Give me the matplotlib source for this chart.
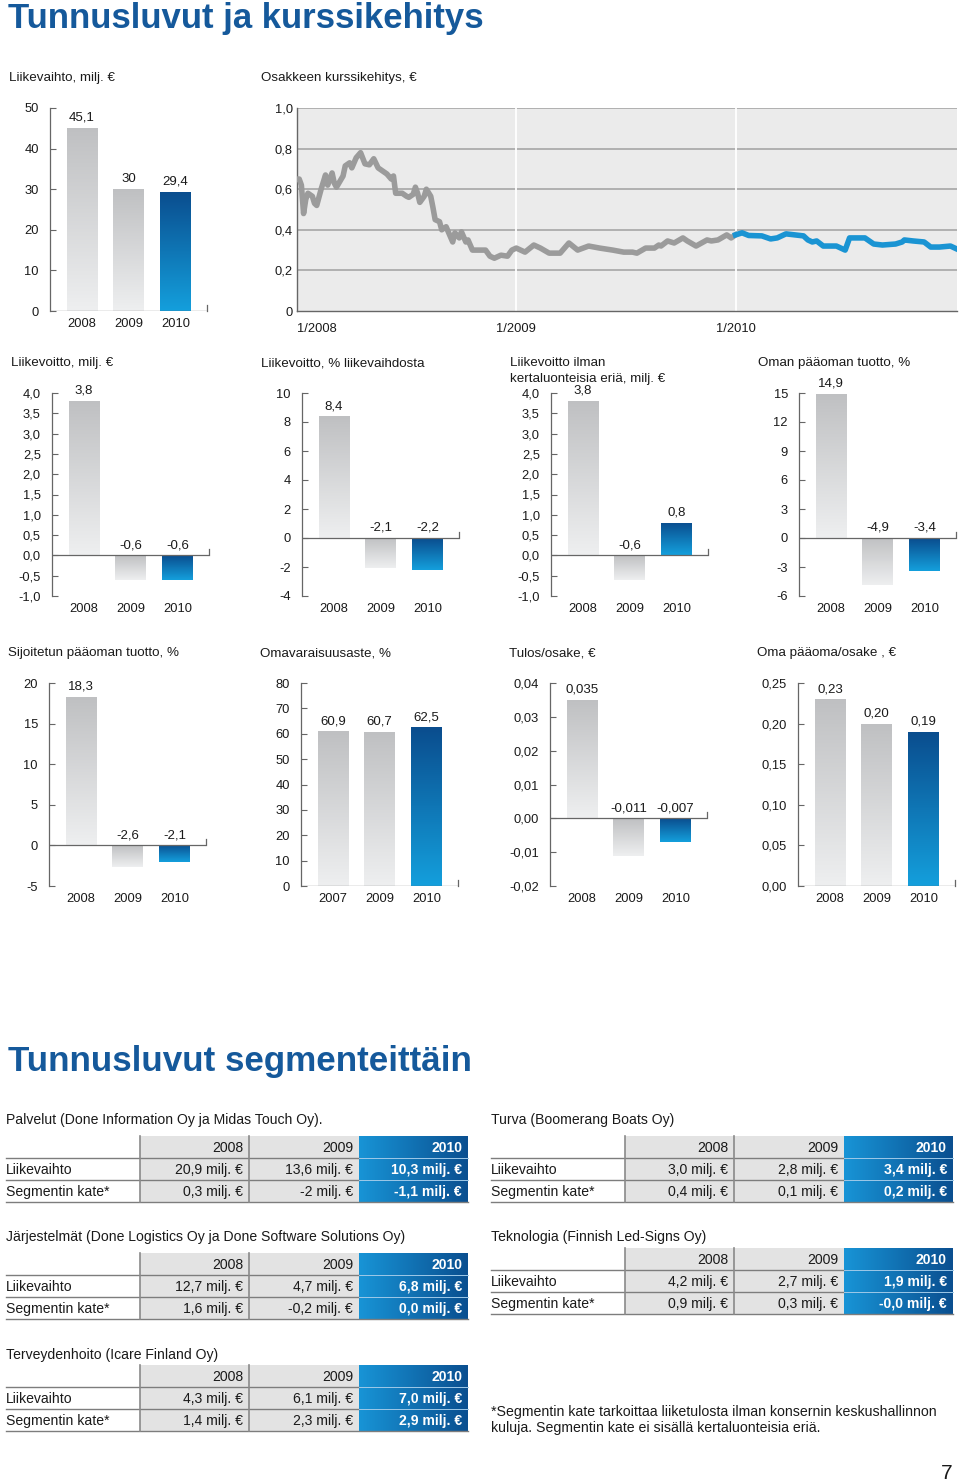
import numpy as np
import matplotlib.pyplot as plt
from matplotlib.colors import LinearSegmentedColormap

plt.rcParams['font.family'] = ['Liberation Sans', 'DejaVu Sans']

W, H = 960, 1481

# Tunnusluvut
vuodet = ['2008', '2009', '2010']
liikevaihto = [45.1, 30, 29.4]
liikevoitto = [3.8, -0.6, -0.6]
liikevoitto_pros = [8.4, -2.1, -2.2]
liikevoitto_ilman = [3.8, -0.6, 0.8]
oman_paaoman_tuotto = [14.9, -4.9, -3.4]
sijoitetun_tuotto = [18.3, -2.6, -2.1]
omavaraisuus_vuodet = ['2007', '2009', '2010']
omavaraisuusaste = [60.9, 60.7, 62.5]
tulos_osake = [0.035, -0.011, -0.007]
oma_paaoma_osake = [0.23, 0.20, 0.19]

# Osakkeen kurssi (luettu kuvasta)
kurssi_aika = [2008.00, 2008.01, 2008.02, 2008.03, 2008.04, 2008.05, 2008.07, 2008.08, 2008.09,
               2008.11, 2008.13, 2008.14, 2008.16, 2008.17, 2008.18, 2008.21, 2008.22, 2008.24,
               2008.25, 2008.27, 2008.29, 2008.31, 2008.33, 2008.35, 2008.37, 2008.39, 2008.41,
               2008.43, 2008.44, 2008.45, 2008.48, 2008.50, 2008.51, 2008.53, 2008.54, 2008.55,
               2008.56, 2008.58, 2008.59, 2008.61, 2008.62, 2008.63, 2008.65, 2008.66, 2008.68,
               2008.69, 2008.71, 2008.72, 2008.74, 2008.75, 2008.77, 2008.78, 2008.80, 2008.83,
               2008.86, 2008.88, 2008.90, 2008.93, 2008.96, 2008.98, 2009.00, 2009.04, 2009.08,
               2009.11, 2009.15, 2009.20, 2009.24, 2009.28, 2009.33, 2009.38, 2009.44, 2009.49,
               2009.53, 2009.55, 2009.59, 2009.63, 2009.65, 2009.66, 2009.69, 2009.72, 2009.76,
               2009.78, 2009.82, 2009.87, 2009.89, 2009.92, 2009.96, 2009.98, 2010.00]
kurssi = [0.65, 0.65, 0.62, 0.48, 0.55, 0.58, 0.565, 0.53, 0.52,
          0.60, 0.67, 0.62, 0.68, 0.63, 0.61, 0.665, 0.715, 0.73,
          0.705, 0.755, 0.78, 0.725, 0.72, 0.75, 0.705, 0.69, 0.675,
          0.65, 0.665, 0.58, 0.58, 0.565, 0.56, 0.575, 0.61, 0.58,
          0.535, 0.565, 0.60, 0.565, 0.51, 0.45, 0.44, 0.40, 0.415,
          0.39, 0.34, 0.385, 0.36, 0.39, 0.34, 0.35, 0.30, 0.30,
          0.30, 0.27, 0.26, 0.275, 0.27, 0.30, 0.31, 0.29, 0.325,
          0.31, 0.285, 0.285, 0.335, 0.30, 0.32, 0.31, 0.30, 0.29,
          0.29, 0.285, 0.31, 0.31, 0.325, 0.32, 0.345, 0.335, 0.36,
          0.345, 0.32, 0.35, 0.345, 0.35, 0.375, 0.36, 0.375]
kurssi_2010_aika = [2010.00, 2010.03, 2010.06, 2010.12, 2010.16, 2010.19, 2010.23, 2010.27, 2010.31,
                    2010.33, 2010.35, 2010.37, 2010.40, 2010.46, 2010.50, 2010.52, 2010.59, 2010.63,
                    2010.67, 2010.73, 2010.76, 2010.77, 2010.81, 2010.86, 2010.89, 2010.93, 2010.98,
                    2011.01]
kurssi_2010 = [0.375, 0.385, 0.372, 0.37, 0.355, 0.36, 0.38, 0.375, 0.37,
               0.35, 0.34, 0.345, 0.32, 0.32, 0.30, 0.36, 0.36, 0.33,
               0.325, 0.33, 0.34, 0.35, 0.345, 0.34, 0.315, 0.315, 0.32,
               0.305]

# Segmentit
seg_otsikot = ['Palvelut (Done Information Oy ja Midas Touch Oy).',
               'Turva (Boomerang Boats Oy)',
               'Järjestelmät (Done Logistics Oy ja Done Software Solutions Oy)',
               'Teknologia (Finnish Led-Signs Oy)',
               'Terveydenhoito (Icare Finland Oy)']
seg_liikevaihto = [['20,9', '13,6', '10,3'], ['3,0', '2,8', '3,4'], ['12,7', '4,7', '6,8'],
                   ['4,2', '2,7', '1,9'], ['4,3', '6,1', '7,0']]
seg_kate = [['0,3', '-2', '-1,1'], ['0,4', '0,1', '0,2'], ['1,6', '-0,2', '0,0'],
            ['0,9', '0,3', '-0,0'], ['1,4', '2,3', '2,9']]

otsikko_vari = '#15599b'
akseli_vari = '#666666'
harmaa = LinearSegmentedColormap.from_list('harmaa', ['#bfc0c2', '#eeeff0'])
sininen = LinearSegmentedColormap.from_list('sininen', ['#0a4d8e', '#149fdc'])
sininen_vaaka = LinearSegmentedColormap.from_list('sv', ['#1894d6', '#0a4f90'])

fig = plt.figure(figsize=(W / 100, H / 100), dpi=100)
ov = fig.add_axes([0, 0, 1, 1])
ov.axis('off')


def fmt(v, d):
    return f'{v:.{d}f}'.replace('.', ',')


AW, AH = 157, 203


def pylvaat(left, top, otsikko, kategoriat, arvot, ylim, ytikit, ydes, arvo_fmt):
    ax = fig.add_axes([left / W, 1 - (top + AH) / H, AW / W, AH / H])
    x = np.arange(len(arvot))
    bars = ax.bar(x, arvot, width=0.66, color='none', edgecolor='none', zorder=2)
    for i, b in enumerate(bars):
        cm = sininen if i == len(bars) - 1 else harmaa
        y0 = min(b.get_y(), b.get_y() + b.get_height())
        y1 = max(b.get_y(), b.get_y() + b.get_height())
        im = ax.imshow(np.linspace(0, 1, 128).reshape(-1, 1), cmap=cm, origin='upper',
                       extent=(b.get_x(), b.get_x() + b.get_width(), y0, y1),
                       aspect='auto', zorder=2)
        im.set_clip_path(b)
        ax.annotate(arvo_fmt(arvot[i]), (x[i], max(arvot[i], 0)), xytext=(0, 3),
                    textcoords='offset points', ha='center', va='bottom', fontsize=9.5,
                    color='#1a1a1a')
    ax.set_xlim(-0.684, 2.674)
    ax.set_ylim(*ylim)
    ax.axhline(0, color=akseli_vari, lw=0.9, zorder=3)
    ax.plot([2.674, 2.674], [0, (ylim[1] - ylim[0]) * 0.03], color=akseli_vari, lw=0.9,
            clip_on=False)
    ax.set_yticks(ytikit)
    ax.set_yticklabels([fmt(t, ydes) for t in ytikit])
    ax.set_xticks(x)
    ax.set_xticklabels(kategoriat)
    ax.tick_params(axis='y', direction='in', length=4, width=0.8, color=akseli_vari,
                   labelsize=9.3, pad=8, labelcolor='#1a1a1a')
    ax.tick_params(axis='x', length=0, labelsize=9.3, pad=5, labelcolor='#1a1a1a')
    for s in ['top', 'right', 'bottom']:
        ax.spines[s].set_visible(False)
    ax.spines['left'].set_color(akseli_vari)
    ax.spines['left'].set_linewidth(0.9)
    ax.patch.set_alpha(0)
    if isinstance(otsikko, str):
        otsikko = [otsikko]
    for j, rivi in enumerate(otsikko):
        ov.text(left - 41, top - 27 + 16 * j, rivi, fontsize=9.6, va='baseline', ha='left',
                color='#1a1a1a')
    return ax


# Ylärivi
pylvaat(50, 108, 'Liikevaihto, milj. €', vuodet, liikevaihto, (0, 50),
        [0, 10, 20, 30, 40, 50], 0, lambda v: f'{v:g}'.replace('.', ','))

# Kurssikehitys
axk = fig.add_axes([297 / W, 1 - 311 / H, 660 / W, 203 / H])
axk.set_facecolor('#ebebeb')
axk.plot(kurssi_aika, kurssi, color='#9b9b9b', lw=4, solid_joinstyle='round', zorder=3)
axk.plot(kurssi_2010_aika, kurssi_2010, color='#1a94d3', lw=4, solid_joinstyle='round',
         zorder=3)
axk.set_xlim(2008.0, 2011.01)
axk.set_ylim(0, 1.0)
ky = [0, 0.2, 0.4, 0.6, 0.8, 1.0]
axk.set_yticks(ky)
axk.set_yticklabels(['0'] + [fmt(t, 1) for t in ky[1:]])
for t in ky[1:]:
    axk.axhline(t, color='#b0b0b0', lw=1.4, zorder=1)
for t in [2009, 2010]:
    axk.axvline(t, color='white', lw=1.3, zorder=1)
axk.set_xticks([2008, 2009, 2010])
axk.set_xticklabels(['1/2008', '1/2009', '1/2010'])
axk.get_xticklabels()[0].set_ha('left')
axk.tick_params(length=0, labelsize=9.3, labelcolor='#1a1a1a')
axk.tick_params(axis='y', pad=3)
axk.tick_params(axis='x', pad=9)
for s in ['top', 'right']:
    axk.spines[s].set_visible(False)
for s in ['left', 'bottom']:
    axk.spines[s].set_color(akseli_vari)
    axk.spines[s].set_linewidth(1.0)
ov.text(261, 81, 'Osakkeen kurssikehitys, €', fontsize=9.6, va='baseline', color='#1a1a1a')

# Keskirivi
pylvaat(52, 393, 'Liikevoitto, milj. €', vuodet, liikevoitto, (-1, 4),
        np.arange(-1, 4.01, 0.5), 1, lambda v: fmt(v, 1))
pylvaat(302, 393, 'Liikevoitto, % liikevaihdosta', vuodet, liikevoitto_pros, (-4, 10),
        np.arange(-4, 11, 2), 0, lambda v: fmt(v, 1))
pylvaat(551, 393, ['Liikevoitto ilman', 'kertaluonteisia eriä, milj. €'], vuodet,
        liikevoitto_ilman, (-1, 4), np.arange(-1, 4.01, 0.5), 1, lambda v: fmt(v, 1))
pylvaat(799, 393, 'Oman pääoman tuotto, %', vuodet, oman_paaoman_tuotto, (-6, 15),
        np.arange(-6, 16, 3), 0, lambda v: fmt(v, 1))

# Alarivi
pylvaat(49, 683, 'Sijoitetun pääoman tuotto, %', vuodet, sijoitetun_tuotto, (-5, 20),
        np.arange(-5, 21, 5), 0, lambda v: fmt(v, 1))
pylvaat(301, 683, 'Omavaraisuusaste, %', omavaraisuus_vuodet, omavaraisuusaste, (0, 80),
        np.arange(0, 81, 10), 0, lambda v: fmt(v, 1))
pylvaat(550, 683, 'Tulos/osake, €', vuodet, tulos_osake, (-0.02, 0.04),
        np.arange(-0.02, 0.041, 0.01), 2, lambda v: fmt(v, 3))
pylvaat(798, 683, 'Oma pääoma/osake , €', vuodet, oma_paaoma_osake, (0, 0.25),
        np.arange(0, 0.251, 0.05), 2, lambda v: fmt(v, 2))

# Pääotsikot
ov.text(8, 28, 'Tunnusluvut ja kurssikehitys', fontsize=25, fontweight='bold',
        color=otsikko_vari, va='baseline')
ov.text(8, 1071, 'Tunnusluvut segmenteittäin', fontsize=25.2, fontweight='bold',
        color=otsikko_vari, va='baseline')

# Segmenttitaulukot
sarakkeet = [134, 109, 110, 109]
RH = 22


def taulukko(x0, y_otsikko, y_top, k):
    xs = np.concatenate([[x0], x0 + np.cumsum(sarakkeet)])
    ov.text(x0, y_otsikko + 4, seg_otsikot[k], fontsize=10.1, va='baseline', color='#1a1a1a')
    yb = y_top + 3 * RH
    ov.fill_between([xs[1], xs[3]], y_top, yb, color='#e3e3e3', lw=0, zorder=1)
    ov.imshow(np.linspace(0, 1, 128).reshape(1, -1), cmap=sininen_vaaka,
              extent=(xs[3], xs[4], yb, y_top), aspect='auto', zorder=1)
    for r in [1, 2]:
        ov.plot([xs[0], xs[3]], [y_top + r * RH] * 2, color='#7d7d7d', lw=1.0, zorder=2)
        ov.plot([xs[3], xs[4]], [y_top + r * RH] * 2, color='#9fc9e8', lw=0.7, zorder=2)
    ov.plot([xs[0], xs[4]], [yb, yb], color='#7d7d7d', lw=1.0, zorder=2)
    for c in [1, 2]:
        ov.plot([xs[c], xs[c]], [y_top, yb], color='#8a8a8a', lw=1.2, zorder=2)
    rivit = [vuodet,
             [v + ' milj. €' for v in seg_liikevaihto[k]],
             [v + ' milj. €' for v in seg_kate[k]]]
    nimet = ['', 'Liikevaihto', 'Segmentin kate*']
    for r in range(3):
        yc = y_top + r * RH + RH / 2 + 1
        ov.text(x0, yc, nimet[r], fontsize=10.1, va='center', ha='left', color='#1a1a1a')
        for c in range(3):
            viim = c == 2
            ov.text(xs[c + 2] - 6, yc, rivit[r][c], fontsize=10.1, va='center', ha='right',
                    color='white' if viim else '#1a1a1a',
                    fontweight='bold' if viim else 'normal', zorder=3)


taulukko(6, 1120, 1136, 0)
taulukko(491, 1120, 1136, 1)
taulukko(6, 1237, 1253, 2)
taulukko(491, 1237, 1248, 3)
taulukko(6, 1355, 1365, 4)

ov.text(491, 1416, '*Segmentin kate tarkoittaa liiketulosta ilman konsernin keskushallinnon',
        fontsize=10.2, va='baseline', color='#1a1a1a')
ov.text(491, 1432, 'kuluja. Segmentin kate ei sisällä kertaluonteisia eriä.',
        fontsize=10.2, va='baseline', color='#1a1a1a')
ov.text(953, 1479, '7', fontsize=15, ha='right', va='baseline', color='#1a1a1a')

ov.set_xlim(0, W)
ov.set_ylim(H, 0)

fig.savefig('out.png', dpi=100)
